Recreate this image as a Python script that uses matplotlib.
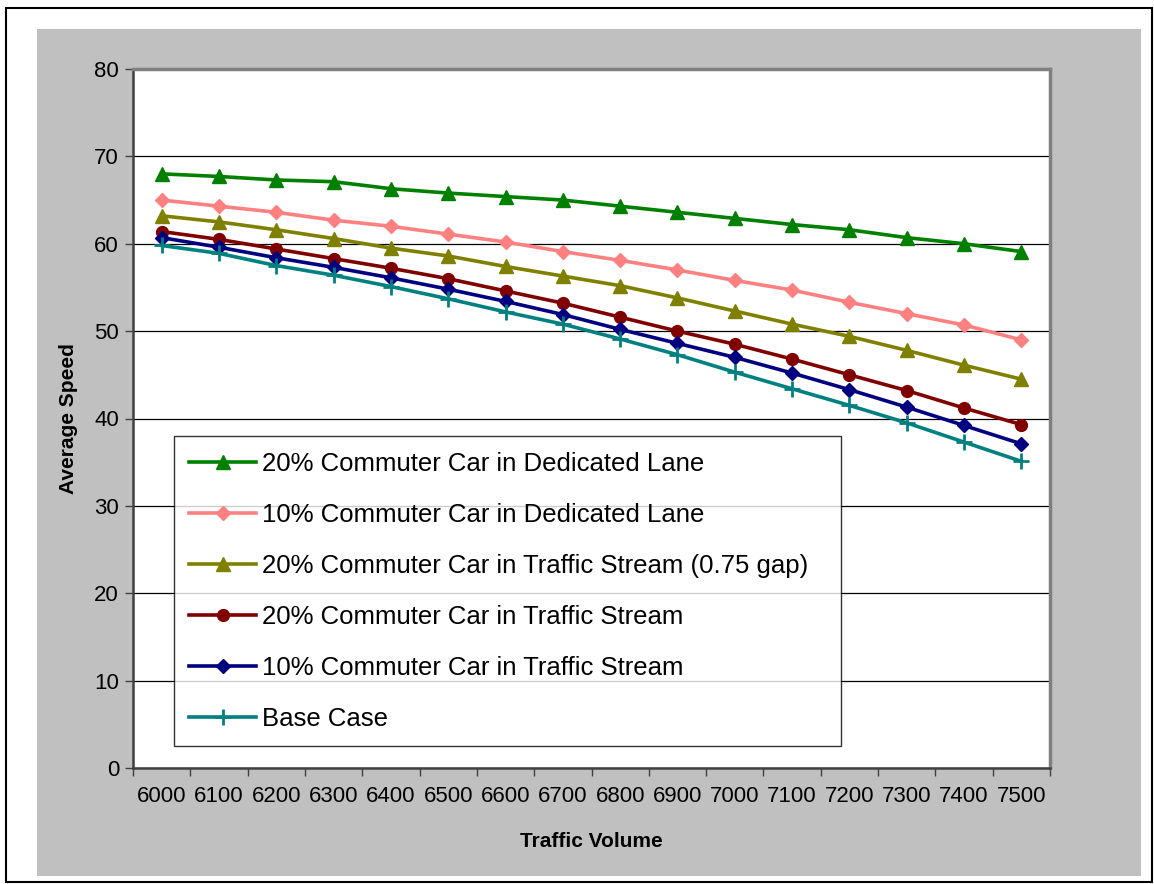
import matplotlib
matplotlib.use('Agg')
import matplotlib.pyplot as plt
from matplotlib.patches import Rectangle
import numpy as np

plt.rcParams['font.family'] = ['Liberation Sans', 'DejaVu Sans']

volumes = [6000, 6100, 6200, 6300, 6400, 6500, 6600, 6700,
           6800, 6900, 7000, 7100, 7200, 7300, 7400, 7500]

ded20 = [68.0, 67.7, 67.3, 67.1, 66.3, 65.8, 65.4, 65.0,
         64.3, 63.6, 62.9, 62.2, 61.6, 60.7, 60.0, 59.1]
ded10 = [65.0, 64.3, 63.6, 62.7, 62.0, 61.1, 60.2, 59.1,
         58.1, 57.0, 55.8, 54.7, 53.3, 52.0, 50.7, 49.0]
str20_gap = [63.2, 62.5, 61.6, 60.6, 59.5, 58.6, 57.4, 56.3,
             55.2, 53.8, 52.3, 50.8, 49.4, 47.8, 46.1, 44.5]
str20 = [61.4, 60.5, 59.4, 58.3, 57.2, 56.0, 54.6, 53.2,
         51.6, 50.0, 48.5, 46.8, 45.0, 43.2, 41.2, 39.3]
str10 = [60.7, 59.6, 58.4, 57.3, 56.1, 54.8, 53.4, 51.9,
         50.2, 48.6, 47.0, 45.2, 43.3, 41.3, 39.2, 37.1]
base = [59.8, 58.9, 57.5, 56.4, 55.1, 53.7, 52.2, 50.8,
        49.1, 47.3, 45.3, 43.4, 41.5, 39.5, 37.3, 35.1]

series = [
    ('20% Commuter Car in Dedicated Lane', ded20, '#008000', '^', 10),
    ('10% Commuter Car in Dedicated Lane', ded10, '#FF8080', 'D', 7.5),
    ('20% Commuter Car in Traffic Stream (0.75 gap)', str20_gap, '#808000', '^', 10),
    ('20% Commuter Car in Traffic Stream', str20, '#800000', 'o', 8.5),
    ('10% Commuter Car in Traffic Stream', str10, '#000080', 'D', 7.5),
    ('Base Case', base, '#008080', '+', 11),
]

W, H = 1154, 884
fig = plt.figure(figsize=(W / 100, H / 100), dpi=100)
fig.patch.set_facecolor('white')
fig.patches.append(Rectangle((6 / W, 2 / H), 1146 / W, 874 / H, transform=fig.transFigure,
                             fill=False, edgecolor='black', linewidth=1.5))
fig.patches.append(Rectangle((37 / W, (H - 876) / H), (1141 - 37) / W, (876 - 29) / H,
                             transform=fig.transFigure, facecolor='#C0C0C0', edgecolor='none', zorder=-1))

ax = fig.add_axes([133 / W, (H - 768) / H, (1050 - 133) / W, (768 - 69) / H])
ax.set_facecolor('white')

x = np.arange(len(volumes))
for label, vals, color, marker, ms in series:
    mew = 2 if marker == '+' else 1
    ax.plot(x, vals, color=color, linewidth=2.6, marker=marker, markersize=ms,
            markeredgewidth=mew, label=label)

ax.set_xlim(-0.5, len(volumes) - 0.5)
ax.set_ylim(0, 80)
ax.set_yticks(np.arange(0, 81, 10))
ax.yaxis.grid(True, color='black', linewidth=0.9)
ax.set_axisbelow(True)

ax.set_xticks(np.arange(-0.5, len(volumes), 1.0))
ax.set_xticklabels([])
ax.set_xticks(x, minor=True)
ax.set_xticklabels([str(v) for v in volumes], minor=True)
ax.tick_params(axis='x', which='minor', length=0, pad=13, labelsize=16)
ax.tick_params(axis='x', which='major', length=6, width=1, direction='out', color='#404040')
ax.tick_params(axis='y', length=6, width=1, direction='out', labelsize=16, pad=4, color='#404040')

for side in ['top', 'right']:
    ax.spines[side].set_color('#808080')
    ax.spines[side].set_linewidth(2.5)
for side in ['left', 'bottom']:
    ax.spines[side].set_color('#404040')
    ax.spines[side].set_linewidth(1.8)

ax.set_xlabel('Traffic Volume', fontsize=15, fontweight='bold', labelpad=18)
ax.set_ylabel('Average Speed', fontsize=15, fontweight='bold', labelpad=12)

leg = ax.legend(loc='lower left',
                bbox_to_anchor=((174 - 133) / 917, (768 - 746) / 699, (841 - 174) / 917, 0.3),
                mode='expand', fontsize=18.5, frameon=True, fancybox=False,
                handlelength=2.6, handletextpad=0.22, labelspacing=1.05,
                borderpad=0.6, borderaxespad=0)
leg.get_frame().set_edgecolor('black')
leg.get_frame().set_linewidth(1.0)

fig.savefig('out.png', dpi=100)
